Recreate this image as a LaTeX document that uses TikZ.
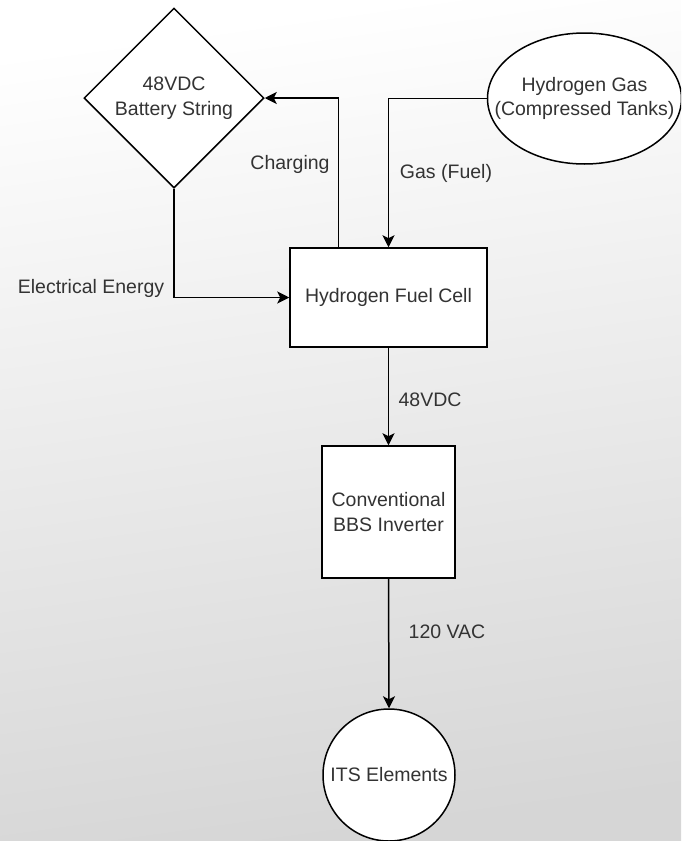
\documentclass[tikz,border=0pt]{standalone}
\usepackage{fontspec}
\setmainfont{Liberation Sans}
\usetikzlibrary{shapes.geometric,arrows.meta}
\definecolor{txt}{HTML}{333333}
\begin{document}
\begin{tikzpicture}[x=1pt,y=-1pt,
  font=\fontsize{19.5}{24.5}\selectfont,
  every node/.style={text=txt},
  blk/.style={draw=black,line width=1.5pt,fill=white,align=center,inner sep=0pt},
  conn/.style={draw=black,line width=1.5pt,-{Stealth[length=12pt,width=12pt,inset=3pt]}},
  lbl/.style={inner sep=0pt}]
\shade[top color=white,bottom color=black!16,shading angle=8] (0,0) rectangle (681,841);
\useasboundingbox (0,0) rectangle (681,841);
\begin{scope}
\clip (0,0) rectangle (681,841);
\node[blk,diamond,minimum width=180pt,minimum height=180pt] (bat) at (174,98) {48VDC\\Battery String};
\node[blk,ellipse,minimum width=194pt,minimum height=131pt,
  label={[align=center,inner sep=0pt,text=txt]center:Hydrogen Gas\\(Compressed Tanks)}] (hg) at (584.5,98.5) {};
\node[blk,rectangle,minimum width=197pt,minimum height=99pt] (fc) at (388.5,297.5) {Hydrogen Fuel Cell};
\node[blk,rectangle,minimum width=133pt,minimum height=132pt] (inv) at (388.5,512) {Conventional\\BBS Inverter};
\node[blk,circle,minimum size=132pt] (its) at (389,775) {ITS Elements};

\draw[conn] (hg.west) -| (fc.north);
\draw[conn] ([xshift=-50pt]fc.north) |- (bat.east);
\draw[conn] (bat.south) |- (fc.west);
\draw[conn] (fc.south) -- (inv.north);
\draw[conn] (inv.south) -- (its.north);

\node[lbl] (lcharge) at (290,164) {Charging};
\node[lbl] (lgas) at (446,173) {Gas (Fuel)};
\node[lbl] (lelec) at (91,288) {Electrical Energy};
\node[lbl] (l48) at (430,400) {48VDC};
\node[lbl] (l120) at (447,632) {120 VAC};
\end{scope}
\end{tikzpicture}
\end{document}
